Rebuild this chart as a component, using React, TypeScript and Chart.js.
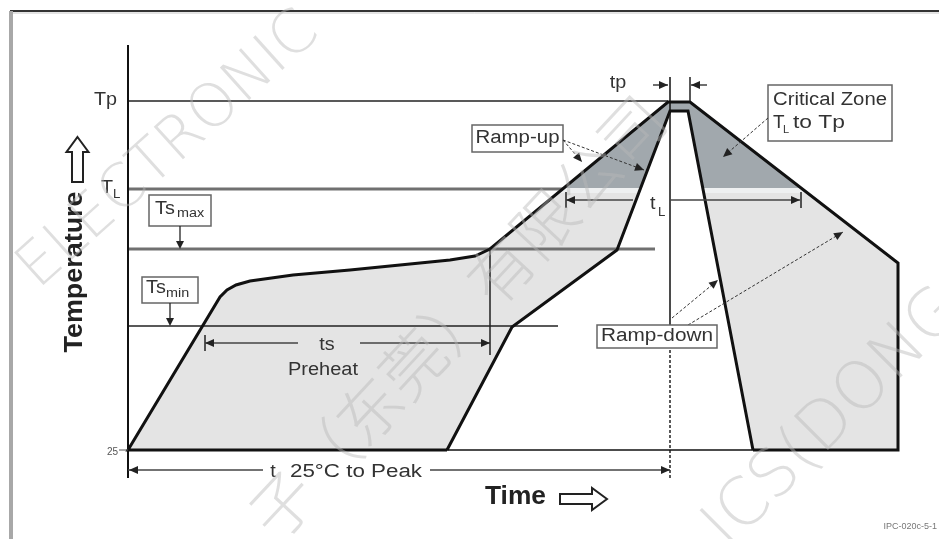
import React, { useEffect, useRef } from "react";
import { Chart, registerables } from "chart.js";

Chart.register(...registerables);

// Time / temperature in arbitrary schematic units (0,0 = start at 25 °C)
const OUTER_TIME = [319, 0, 92, 99, 108, 122, 165, 222, 272, 322, 347, 362, 540, 562, 770, 770, 625];
const OUTER_TEMP = [0, 0, 153, 160, 165, 169, 175, 180, 185, 190, 194, 201, 348, 348, 187, 0, 0];
const INNER_TIME = [319, 384, 489, 542, 560, 625];
const INNER_TEMP = [0, 123, 200, 339, 339, 0];
const LEVEL_NAMES = ["Tp", "TL", "Tsmax", "Tsmin"];
const LEVEL_TEMP = [349, 261, 201, 124];
const LEVEL_END_TIME = [540, 435, 527, 430];
const AXIS_TIME = [0, 770];
const AXIS_TEMP = [405, -28];
const PEAK_TIME = 542;

const FONT = '"Liberation Sans", Arial, Helvetica, sans-serif';

const pairs = (xs: number[], ys: number[]) => xs.map((x, i) => ({ x, y: ys[i] }));

function drawText(
  ctx: CanvasRenderingContext2D,
  s: string,
  x: number,
  y: number,
  o: { size?: number; bold?: boolean; color?: string; align?: CanvasTextAlign; width?: number; sx?: number; rot?: number; family?: string } = {}
) {
  const size = o.size ?? 18;
  ctx.save();
  ctx.font = `${o.bold ? "bold " : ""}${size}px ${o.family ?? FONT}`;
  ctx.fillStyle = o.color ?? "#333";
  ctx.textBaseline = "middle";
  ctx.textAlign = o.align ?? "left";
  ctx.translate(x, y);
  if (o.rot) ctx.rotate(o.rot);
  let sx = o.sx ?? 1.1;
  if (o.width) sx = o.width / ctx.measureText(s).width;
  ctx.scale(sx, 1);
  ctx.fillText(s, 0, 0);
  ctx.restore();
}

function seg(ctx: CanvasRenderingContext2D, x1: number, y1: number, x2: number, y2: number, w = 1.5, color = "#222", dash: number[] = []) {
  ctx.save();
  ctx.strokeStyle = color;
  ctx.lineWidth = w;
  ctx.setLineDash(dash);
  ctx.beginPath();
  ctx.moveTo(x1, y1);
  ctx.lineTo(x2, y2);
  ctx.stroke();
  ctx.restore();
}

function head(ctx: CanvasRenderingContext2D, tx: number, ty: number, fx: number, fy: number, len = 9, half = 4, color = "#222") {
  const a = Math.atan2(ty - fy, tx - fx);
  const c = Math.cos(a), s = Math.sin(a);
  ctx.save();
  ctx.fillStyle = color;
  ctx.beginPath();
  ctx.moveTo(tx, ty);
  ctx.lineTo(tx - len * c + half * s, ty - len * s - half * c);
  ctx.lineTo(tx - len * c - half * s, ty - len * s + half * c);
  ctx.closePath();
  ctx.fill();
  ctx.restore();
}

function box(ctx: CanvasRenderingContext2D, x1: number, y1: number, x2: number, y2: number) {
  ctx.save();
  ctx.fillStyle = "#fff";
  ctx.fillRect(x1, y1, x2 - x1, y2 - y1);
  ctx.strokeStyle = "#666";
  ctx.lineWidth = 1.5;
  ctx.strokeRect(x1, y1, x2 - x1, y2 - y1);
  ctx.restore();
}

const overlay = {
  id: "overlay",
  beforeDraw(chart: any) {
    const { ctx } = chart;
    ctx.save();
    ctx.fillStyle = "#fff";
    ctx.fillRect(0, 0, chart.width, chart.height);
    ctx.restore();
  },
  beforeDatasetsDraw(chart: any) {
    const { ctx } = chart;
    const xs = chart.scales.x, ys = chart.scales.y;
    const X = (t: number) => xs.getPixelForValue(t);
    const Y = (v: number) => ys.getPixelForValue(v);
    // profile window polygon
    const poly = [...pairs(OUTER_TIME, OUTER_TEMP), ...pairs(INNER_TIME, INNER_TEMP).reverse().slice(1, -1)];
    ctx.save();
    ctx.beginPath();
    poly.forEach((p, i) => (i ? ctx.lineTo(X(p.x), Y(p.y)) : ctx.moveTo(X(p.x), Y(p.y))));
    ctx.closePath();
    ctx.fillStyle = "#e4e4e4";
    ctx.fill();
    ctx.clip();
    const yTL = Y(LEVEL_TEMP[1]);
    ctx.fillStyle = "#a1a8ad";
    ctx.fillRect(0, 0, chart.width, yTL - 1);
    ctx.fillStyle = "#eef0f1";
    ctx.fillRect(0, yTL - 1, chart.width, 5);
    ctx.restore();

    // frame
    seg(ctx, X(-118), Y(439), X(811), Y(439), 2, "#333");
    seg(ctx, X(-118), Y(437), X(811), Y(437), 1, "#c8c8c8");
    seg(ctx, X(-117), Y(439), X(-117), Y(-89), 4, "#a8a8a8");
  },
  afterDatasetsDraw(chart: any) {
    const { ctx } = chart;
    const xs = chart.scales.x, ys = chart.scales.y;
    const X = (t: number) => xs.getPixelForValue(t);
    const Y = (v: number) => ys.getPixelForValue(v);
    const [tp, tl, tsmax, tsmin] = LEVEL_TEMP;

    // y axis labels
    drawText(ctx, "Tp", X(-11), Y(tp + 1), { align: "right", sx: 1.1, color: "#333" });
    drawText(ctx, "T", X(-15), Y(tl + 1), { align: "right", sx: 1.1, color: "#333" });
    drawText(ctx, "L", X(-15), Y(tl - 6), { size: 12, sx: 1.1, color: "#333" });
    drawText(ctx, "25", X(-10), Y(-2), { size: 10, align: "right", sx: 1, color: "#555" });
    seg(ctx, X(-9), Y(0), X(0), Y(0), 1, "#555");

    // Ts max / min boxes
    box(ctx, X(21), Y(255), X(83), Y(224));
    drawText(ctx, "Ts", X(27), Y(241), { sx: 1.1 });
    drawText(ctx, "max", X(49), Y(236), { size: 12, sx: 1.2 });
    seg(ctx, X(52), Y(224), X(52), Y(tsmax + 2), 1.3);
    head(ctx, X(52), Y(tsmax), X(52), Y(224), 8, 4);
    box(ctx, X(14), Y(173), X(70), Y(147));
    drawText(ctx, "Ts", X(18), Y(162), { sx: 1.1 });
    drawText(ctx, "min", X(38), Y(156), { size: 12, sx: 1.2 });
    seg(ctx, X(42), Y(147), X(42), Y(tsmin + 2), 1.3);
    head(ctx, X(42), Y(tsmin), X(42), Y(147), 8, 4);

    // ts preheat dimension
    const yts = Y(107);
    seg(ctx, X(77), Y(115), X(77), Y(99), 1.5);
    seg(ctx, X(77), yts, X(170), yts, 1.3, "#444");
    head(ctx, X(77), yts, X(90), yts);
    drawText(ctx, "ts", X(199), Y(105), { align: "center", sx: 1.1 });
    seg(ctx, X(232), yts, X(362), yts, 1.3, "#444");
    head(ctx, X(362), yts, X(340), yts);
    seg(ctx, X(362), Y(tsmax), X(362), Y(95), 1.5);
    drawText(ctx, "Preheat", X(195), Y(80), { align: "center", width: 70 });

    // t 25C to peak
    const y25 = Y(-20);
    seg(ctx, X(0), y25, X(135), y25, 1.3, "#444");
    head(ctx, X(1), y25, X(20), y25);
    drawText(ctx, "t", X(145), Y(-22), { align: "center", sx: 1.1 });
    drawText(ctx, "25\u00B0C to Peak", X(162), Y(-22), { width: 132 });
    seg(ctx, X(302), y25, X(PEAK_TIME), y25, 1.3, "#444");
    head(ctx, X(PEAK_TIME), y25, X(520), y25);

    // tp marker
    drawText(ctx, "tp", X(490), Y(367), { align: "center", sx: 1.1 });
    seg(ctx, X(562), Y(373), X(562), Y(tp), 1.5);
    seg(ctx, X(525), Y(365), X(540), Y(365), 1.3);
    head(ctx, X(540), Y(365), X(525), Y(365));
    seg(ctx, X(563), Y(365), X(579), Y(365), 1.3);
    head(ctx, X(563), Y(365), X(579), Y(365));

    // tL dimension
    const ytl = Y(250);
    seg(ctx, X(438), Y(258), X(438), Y(242), 1.5);
    seg(ctx, X(438), ytl, X(505), ytl, 1.3, "#444");
    head(ctx, X(438), ytl, X(455), ytl);
    drawText(ctx, "t", X(522), Y(246), { sx: 1.1 });
    drawText(ctx, "L", X(530), Y(237), { size: 12, sx: 1.1 });
    seg(ctx, X(PEAK_TIME), ytl, X(672), ytl, 1.3, "#444");
    head(ctx, X(672), ytl, X(650), ytl);
    seg(ctx, X(673), Y(258), X(673), Y(242), 1.5);

    // Ramp-up callout
    box(ctx, X(344), Y(325), X(435), Y(298));
    drawText(ctx, "Ramp-up", X(389.5), Y(311.5), { align: "center", width: 84 });
    seg(ctx, X(435), Y(310), X(454), Y(288), 1, "#333", [3, 2]);
    head(ctx, X(454), Y(288), X(435), Y(310), 9, 4);
    seg(ctx, X(435), Y(310), X(516), Y(280), 1, "#333", [3, 2]);
    head(ctx, X(516), Y(280), X(435), Y(310), 9, 4);

    // Critical zone callout
    box(ctx, X(640), Y(365), X(764), Y(309));
    drawText(ctx, "Critical Zone", X(645), Y(350), { width: 114 });
    drawText(ctx, "T", X(645), Y(327), { sx: 1.05 });
    drawText(ctx, "L", X(655), Y(320), { size: 11, sx: 1.0 });
    drawText(ctx, "to Tp", X(665), Y(327), { width: 52 });
    seg(ctx, X(640), Y(332), X(595), Y(293), 1, "#333", [3, 2]);
    head(ctx, X(595), Y(293), X(640), Y(332), 9, 4);

    // Ramp-down callout
    seg(ctx, X(544), Y(132), X(590), Y(170), 1, "#333", [3, 2]);
    head(ctx, X(590), Y(170), X(544), Y(132), 9, 4);
    seg(ctx, X(560), Y(125), X(715), Y(218), 1, "#333", [3, 2]);
    head(ctx, X(715), Y(218), X(560), Y(125), 9, 4);
    box(ctx, X(469), Y(125), X(589), Y(102));
    drawText(ctx, "Ramp-down", X(529), Y(113.5), { align: "center", width: 112 });

    // axis titles
    drawText(ctx, "Temperature", X(-53), Y(178), { bold: true, size: 26, rot: -Math.PI / 2, align: "center", width: 161, color: "#222" });
    const ax = X(-50.5);
    ctx.save();
    ctx.strokeStyle = "#222";
    ctx.lineWidth = 2;
    ctx.fillStyle = "#fff";
    ctx.beginPath();
    ctx.moveTo(ax, Y(313));
    ctx.lineTo(ax + 11, Y(298));
    ctx.lineTo(ax + 5.5, Y(298));
    ctx.lineTo(ax + 5.5, Y(268));
    ctx.lineTo(ax - 5.5, Y(268));
    ctx.lineTo(ax - 5.5, Y(298));
    ctx.lineTo(ax - 11, Y(298));
    ctx.closePath();
    ctx.fill();
    ctx.stroke();
    ctx.restore();

    drawText(ctx, "Time", X(357), Y(-47), { bold: true, size: 26, width: 61, color: "#222" });
    const ay = Y(-49);
    ctx.save();
    ctx.strokeStyle = "#222";
    ctx.lineWidth = 2;
    ctx.fillStyle = "#fff";
    ctx.beginPath();
    ctx.moveTo(X(479), ay);
    ctx.lineTo(X(464), ay - 11);
    ctx.lineTo(X(464), ay - 5);
    ctx.lineTo(X(432), ay - 5);
    ctx.lineTo(X(432), ay + 5);
    ctx.lineTo(X(464), ay + 5);
    ctx.lineTo(X(464), ay + 11);
    ctx.closePath();
    ctx.fill();
    ctx.stroke();
    ctx.restore();

    drawText(ctx, "IPC-020c-5-1", X(809), Y(-77), { size: 9, align: "right", sx: 1, color: "#777" });

    // watermark
    const wm = (s: string, t: number, v: number, ang: number, size: number, fam: string) => {
      ctx.save();
      ctx.translate(X(t), Y(v));
      ctx.rotate(ang);
      ctx.font = `200 ${size}px ${fam}`;
      ctx.fillStyle = "rgba(185,185,185,0.45)";
      ctx.textBaseline = "alphabetic";
      ctx.textAlign = "left";
      ctx.fillText(s, 0, 0);
      ctx.restore();
    };
    wm("ELECTRONIC", -90, 160, (-42 * Math.PI) / 180, 60, '"DejaVu Sans", sans-serif');
    wm("\u5B50\uFF08\u4E1C\u839E\uFF09\u6709\u9650\u516C\u53F8", 150, -94, (-47 * Math.PI) / 180, 64, '"Noto Sans CJK SC", sans-serif');
    wm("ICS(DONG", 600, -100, (-45 * Math.PI) / 180, 66, '"DejaVu Sans", sans-serif');
  },
};

export default function App() {
  const ref = useRef<HTMLCanvasElement | null>(null);
  useEffect(() => {
    if (!ref.current) return;
    const line = (data: any[], color: string, width: number, order: number, dash: number[] = []) => ({
      data,
      showLine: true,
      borderColor: color,
      backgroundColor: color,
      borderWidth: width,
      borderDash: dash,
      pointRadius: 0,
      tension: 0,
      fill: false,
      order,
    });
    const levelColors = ["#222", "#707070", "#707070", "#222"];
    const levelWidths = [1.5, 3, 3, 1.5];
    const chart = new Chart(ref.current, {
      type: "scatter",
      data: {
        datasets: [
          line(pairs(OUTER_TIME, OUTER_TEMP), "#111", 3, 0),
          line(pairs(INNER_TIME, INNER_TEMP), "#111", 3, 0),
          ...LEVEL_NAMES.map((_, i) =>
            line([{ x: 0, y: LEVEL_TEMP[i] }, { x: LEVEL_END_TIME[i], y: LEVEL_TEMP[i] }], levelColors[i], levelWidths[i], 5)
          ),
          line([{ x: 0, y: AXIS_TEMP[0] }, { x: 0, y: AXIS_TEMP[1] }], "#111", 2, 3),
          line([{ x: AXIS_TIME[0], y: 0 }, { x: AXIS_TIME[1], y: 0 }], "#111", 1.5, 3),
          line([{ x: PEAK_TIME, y: 373 }, { x: PEAK_TIME, y: 110 }], "#111", 1.5, 3),
          line([{ x: PEAK_TIME, y: 110 }, { x: PEAK_TIME, y: -28 }], "#222", 1.5, 3, [3, 2]),
        ] as any,
      },
      options: {
        responsive: false,
        animation: false,
        events: [],
        layout: { padding: 0 },
        plugins: { legend: { display: false }, tooltip: { enabled: false } },
        scales: {
          x: { type: "linear", min: -128, max: 811, display: false },
          y: { type: "linear", min: -89, max: 450, display: false },
        },
      } as any,
      plugins: [overlay],
    });
    return () => chart.destroy();
  }, []);
  return (
    <div style={{ position: "fixed", left: 0, top: 0, width: 939, height: 539, background: "#fff" }}>
      <canvas ref={ref} width={939} height={539} style={{ display: "block", width: 939, height: 539 }} />
    </div>
  );
}
